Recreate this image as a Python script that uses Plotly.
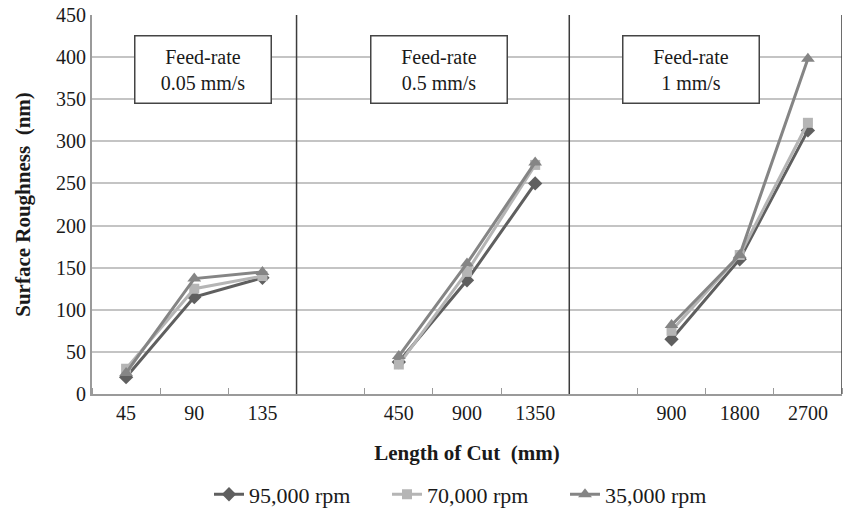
import plotly.graph_objects as go

# Lengths of cut per feed-rate panel
panel_feed = ["Feed-rate<br>0.05 mm/s", "Feed-rate<br>0.5 mm/s", "Feed-rate<br>1 mm/s"]
len_p1 = ["45", "90", "135"]
len_p2 = ["450", "900", "1350"]
len_p3 = ["900", "1800", "2700"]

# Surface roughness (nm) per spindle speed, panel 1 | panel 2 | panel 3
rpm95_p1 = [20, 115, 138]
rpm95_p2 = [38, 135, 250]
rpm95_p3 = [65, 160, 313]

rpm70_p1 = [30, 125, 140]
rpm70_p2 = [35, 145, 272]
rpm70_p3 = [75, 165, 322]

rpm35_p1 = [25, 137, 145]
rpm35_p2 = [45, 155, 275]
rpm35_p3 = [82, 165, 398]

series_names = ["95,000 rpm", "70,000 rpm", "35,000 rpm"]

# slot layout: panel 1 uses slots 0-2, panel 2 slots 3-6 (data in 4-6), panel 3 slots 7-10 (data in 8-10)
slots_p1 = [0, 1, 2]
slots_p2 = [4, 5, 6]
slots_p3 = [8, 9, 10]
separators = [2.5, 6.5]

def join(a, b, c):
    return list(a) + [None] + list(b) + [None] + list(c)

xs = join(slots_p1, slots_p2, slots_p3)

styles = [
    dict(color="#5f5f5f", symbol="diamond", size=11),
    dict(color="#b5b5b5", symbol="square", size=10),
    dict(color="#858585", symbol="triangle-up", size=12),
]
data = [
    join(rpm95_p1, rpm95_p2, rpm95_p3),
    join(rpm70_p1, rpm70_p2, rpm70_p3),
    join(rpm35_p1, rpm35_p2, rpm35_p3),
]

fig = go.Figure()
for name, ys, st in zip(series_names, data, styles):
    fig.add_trace(go.Scatter(
        x=xs, y=ys, name=name, mode="lines+markers", connectgaps=False,
        line=dict(color=st["color"], width=3),
        marker=dict(color=st["color"], symbol=st["symbol"], size=st["size"]),
    ))

font_family = "Liberation Serif, Times New Roman, serif"

tickvals = slots_p1 + slots_p2 + slots_p3
ticktext = len_p1 + len_p2 + len_p3

fig.update_layout(
    width=848, height=511,
    margin=dict(l=92, r=6, t=15, b=117, autoexpand=False),
    plot_bgcolor="white", paper_bgcolor="white",
    font=dict(family=font_family, size=20, color="#1a1a1a"),
    showlegend=True,
    legend=dict(orientation="h", x=0.156, xanchor="left", y=-0.265, yanchor="middle",
                font=dict(size=22, color="#1a1a1a"), entrywidth=133, entrywidthmode="pixels",
                tracegroupgap=0),
    xaxis=dict(
        range=[-0.5, 10.5], tickmode="array", tickvals=tickvals, ticktext=ticktext,
        ticks="", showgrid=False, zeroline=False, automargin=False,
        showline=True, linecolor="#9a9a9a", linewidth=2,
        minor=dict(tickmode="array", tickvals=[i + 0.5 for i in range(-1, 11)],
                   ticks="inside", ticklen=6, tickcolor="#9a9a9a", showgrid=False),
        title=dict(text="<b>Length of Cut  (mm)</b>", font=dict(size=21), standoff=22),
        tickfont=dict(size=20),
    ),
    yaxis=dict(
        range=[0, 450], dtick=50, showgrid=True, gridcolor="#c4c4c4", gridwidth=1.5,
        zeroline=False, showline=True, linecolor="#9a9a9a", linewidth=2, ticks="",
        automargin=False,
        title=dict(text="<b>Surface Roughness  (nm)</b>", font=dict(size=21), standoff=20),
        tickfont=dict(size=20),
    ),
)

for sx in separators + [10.5]:
    fig.add_shape(type="line", xref="x", yref="paper", x0=sx, x1=sx, y0=0, y1=1,
                  line=dict(color="#3c3c3c", width=1.5))

box_x = [0.148, 0.463, 0.799]
for bx, txt in zip(box_x, panel_feed):
    fig.add_annotation(xref="paper", yref="paper", x=bx, y=0.855, text=txt,
                       xanchor="center", yanchor="middle",
                       showarrow=False, align="center", width=131, height=62,
                       bgcolor="white", bordercolor="#444444", borderwidth=1.5, borderpad=2,
                       font=dict(size=20, color="#1a1a1a"))

fig.write_html("out.html", config={"displayModeBar": False},
               post_script="document.body.style.margin='0px';")
